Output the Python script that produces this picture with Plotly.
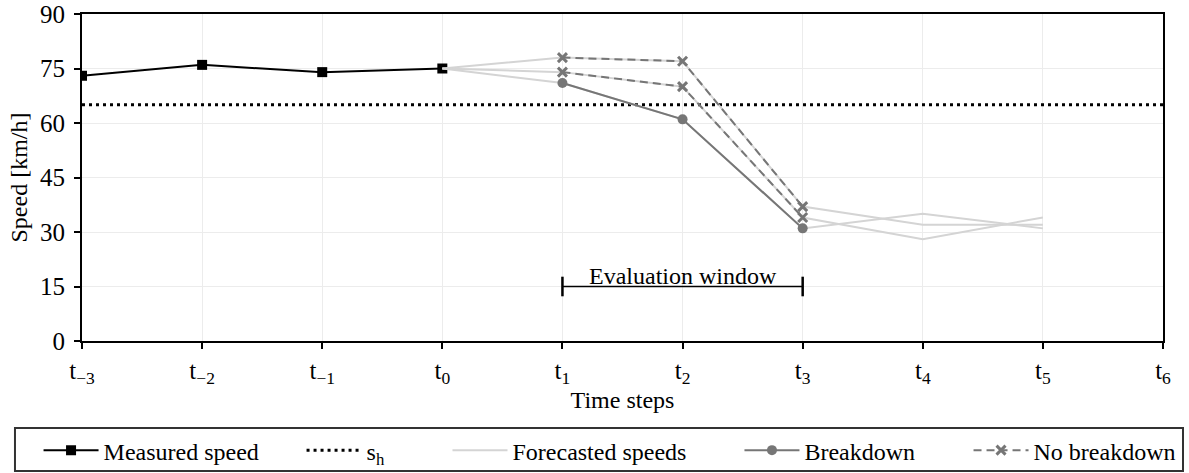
import plotly.graph_objects as go

# Time axis (step index relative to t0) and tick labels
steps = [-3, -2, -1, 0, 1, 2, 3, 4, 5, 6]
step_labels = ["t<sub>−3</sub>", "t<sub>−2</sub>", "t<sub>−1</sub>", "t<sub>0</sub>",
               "t<sub>1</sub>", "t<sub>2</sub>", "t<sub>3</sub>", "t<sub>4</sub>",
               "t<sub>5</sub>", "t<sub>6</sub>"]

# Measured speeds up to t0
measured_steps = [-3, -2, -1, 0]
measured_speed = [73, 76, 74, 75]

# Breakdown threshold s_h
threshold_speed = 65

# Forecast trajectories from t0 to t5
forecast_steps = [0, 1, 2, 3, 4, 5]
forecast_a = [75, 78, 77, 37, 32, 32]
forecast_b = [75, 74, 70, 34, 28, 34]
forecast_c = [75, 71, 61, 31, 35, 31]

# Evaluation window (t1 .. t3)
eval_steps = [1, 3]
eval_level = 15
eval_label = "Evaluation window"

y_ticks = [0, 15, 30, 45, 60, 75, 90]

FONT = "Liberation Serif"
FS = 24
BLACK = "#000000"
LIGHT = "rgb(212,212,212)"
MID = "rgb(118,118,118)"

in_window = [i for i, s in enumerate(forecast_steps) if eval_steps[0] <= s <= eval_steps[1]]
window_steps = [forecast_steps[i] for i in in_window]

fig = go.Figure()

fig.add_trace(go.Scatter(
    x=measured_steps, y=measured_speed, mode="lines+markers",
    name="Measured speed", legend="legend",
    line=dict(color=BLACK, width=2),
    marker=dict(symbol="square", size=10, color=BLACK),
))

fig.add_trace(go.Scatter(
    x=[steps[0], steps[-1]], y=[threshold_speed, threshold_speed], mode="lines",
    name="s<sub>h</sub>", legend="legend2",
    line=dict(color=BLACK, width=3, dash="3px,4px"),
))

for k, f in enumerate([forecast_a, forecast_b, forecast_c]):
    fig.add_trace(go.Scatter(
        x=forecast_steps, y=f, mode="lines",
        name="Forecasted speeds", legend="legend3", legendgroup="forecast",
        showlegend=(k == 0),
        line=dict(color=LIGHT, width=2),
    ))

for k, f in enumerate([forecast_a, forecast_b]):
    fig.add_trace(go.Scatter(
        x=window_steps, y=[f[i] for i in in_window], mode="lines+markers",
        name="No breakdown", legend="legend5", legendgroup="nobreak",
        showlegend=(k == 0),
        line=dict(color=MID, width=2, dash="8px,5px"),
        marker=dict(symbol="x-thin", size=9, line=dict(color=MID, width=3), color=MID),
    ))

fig.add_trace(go.Scatter(
    x=window_steps, y=[forecast_c[i] for i in in_window], mode="lines+markers",
    name="Breakdown", legend="legend4",
    line=dict(color=MID, width=2),
    marker=dict(symbol="circle", size=10, color=MID),
))

# Evaluation window bracket
fig.add_trace(go.Scatter(
    x=eval_steps, y=[eval_level, eval_level], mode="lines+markers",
    showlegend=False, hoverinfo="skip",
    line=dict(color=BLACK, width=1.5),
    marker=dict(symbol="line-ns", size=14, line=dict(color=BLACK, width=2.5)),
))
fig.add_annotation(
    x=sum(eval_steps) / 2, y=eval_level, text=eval_label, showarrow=False,
    yanchor="bottom", yshift=-4, font=dict(family=FONT, size=FS, color=BLACK),
)

legend_common = dict(
    orientation="h", yanchor="middle", y=-0.335, xanchor="left",
    bgcolor="rgba(0,0,0,0)", borderwidth=0, itemwidth=55,
    font=dict(family=FONT, size=FS, color=BLACK), tracegroupgap=0,
)

axis_common = dict(
    showgrid=True, gridcolor="rgb(236,236,236)", gridwidth=1,
    showline=True, linecolor=BLACK, linewidth=2, mirror=True,
    ticks="outside", ticklen=6, tickwidth=2, tickcolor=BLACK,
    zeroline=False, tickfont=dict(family=FONT, size=25, color=BLACK),
)

fig.update_layout(
    width=1189, height=473,
    margin=dict(l=82, r=26, t=14, b=132, autoexpand=False),
    paper_bgcolor="white", plot_bgcolor="white",
    font=dict(family=FONT, size=FS, color=BLACK),
    legend=dict(legend_common, x=-0.0402),
    legend2=dict(legend_common, x=0.2031),
    legend3=dict(legend_common, x=0.3381),
    legend4=dict(legend_common, x=0.6082),
    legend5=dict(legend_common, x=0.8201),
    shapes=[dict(
        type="rect", xref="paper", yref="paper",
        x0=-0.062, x1=1.0185, y0=-0.3976, y1=-0.266,
        line=dict(color="#333333", width=2), fillcolor="rgba(0,0,0,0)",
    )],
    xaxis=dict(
        axis_common,
        range=[steps[0], steps[-1]], tickmode="array", tickvals=steps, ticktext=step_labels,
        title=dict(text="Time steps", standoff=4, font=dict(family=FONT, size=FS, color=BLACK)),
    ),
    yaxis=dict(
        axis_common,
        range=[0, 90], tickmode="array", tickvals=y_ticks, ticklabelstandoff=4,
        title=dict(text="Speed [km/h]", standoff=6, font=dict(family=FONT, size=FS, color=BLACK)),
    ),
)

fig.write_html("out.html")
